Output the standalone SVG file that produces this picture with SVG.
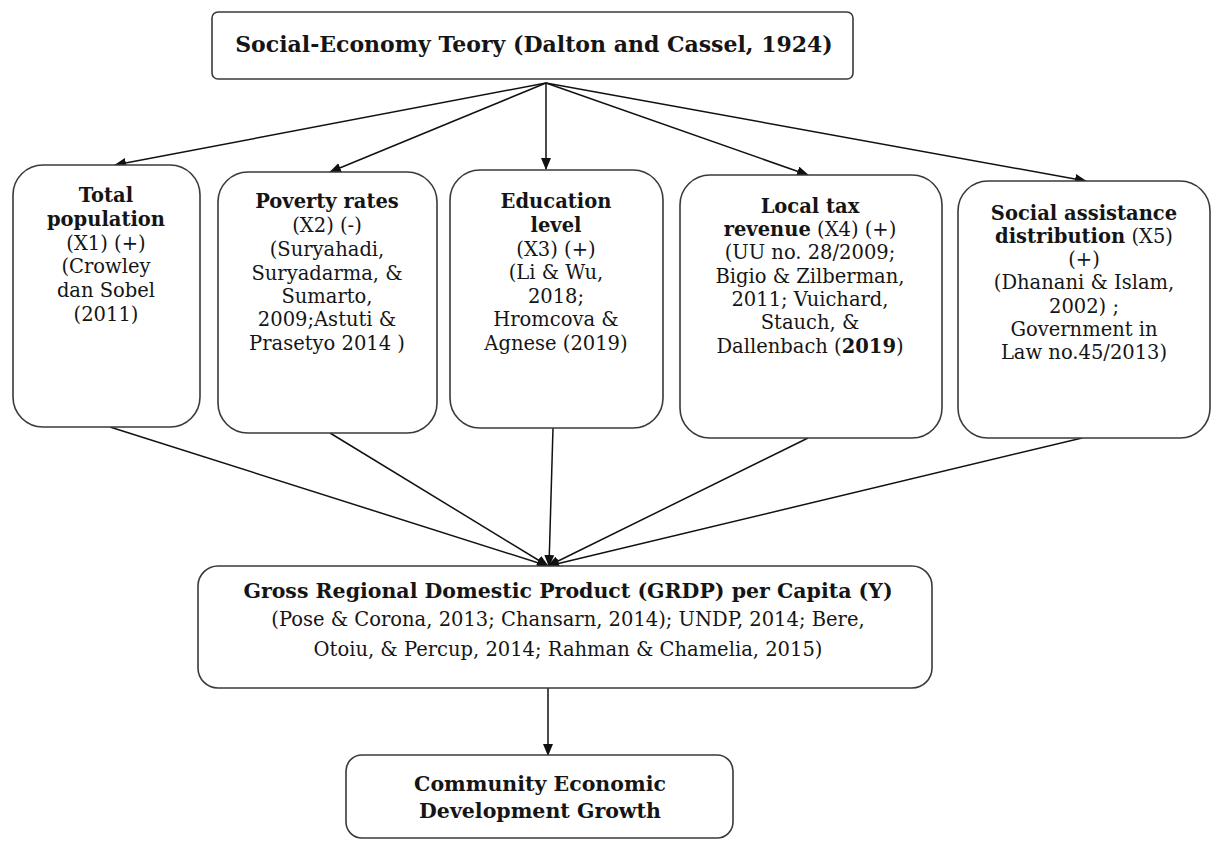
<svg xmlns="http://www.w3.org/2000/svg" width="1212" height="842" viewBox="0 0 1212 842">
<style>
.box{fill:#fff;stroke:#3a3a3a;stroke-width:1.6}
.t{font-family:"DejaVu Serif","Liberation Serif",serif;font-size:19.5px;fill:#151515;text-anchor:middle}
.b{font-weight:bold}
.conn{stroke:#111;stroke-width:1.5;fill:none}
</style>
<defs>
<marker id="ah" markerUnits="userSpaceOnUse" markerWidth="12" markerHeight="10" refX="11" refY="5" orient="auto">
<path d="M0,0 L12,5 L0,10 z" fill="#111"/>
</marker>
</defs>
<rect width="1212" height="842" fill="#fff"/>
<g id="connectors">
<line class="conn" x1="546" y1="83" x2="115" y2="165" marker-end="url(#ah)"/>
<line class="conn" x1="546" y1="83" x2="330" y2="172" marker-end="url(#ah)"/>
<line class="conn" x1="546" y1="83" x2="546" y2="169" marker-end="url(#ah)"/>
<line class="conn" x1="546" y1="83" x2="808" y2="175" marker-end="url(#ah)"/>
<line class="conn" x1="546" y1="83" x2="1086" y2="181" marker-end="url(#ah)"/>
<line class="conn" x1="110" y1="427" x2="548" y2="566" marker-end="url(#ah)"/>
<line class="conn" x1="330" y1="433" x2="548" y2="566" marker-end="url(#ah)"/>
<line class="conn" x1="553" y1="428" x2="549" y2="566" marker-end="url(#ah)"/>
<line class="conn" x1="808" y1="438" x2="548" y2="566" marker-end="url(#ah)"/>
<line class="conn" x1="1082" y1="438" x2="548" y2="566" marker-end="url(#ah)"/>
<line class="conn" x1="548" y1="688" x2="548" y2="755" marker-end="url(#ah)"/>
</g>
<g id="theory">
<rect class="box" x="212" y="12" width="641" height="67" rx="6"/>
<text class="t b" x="534" y="52" style="font-size:22px">Social-Economy Teory (Dalton and Cassel, 1924)</text>
</g>
<g id="x1">
<rect class="box" x="13" y="165" width="187" height="262" rx="30"/>
<text class="t" x="106"><tspan class="b" x="106" y="202">Total</tspan><tspan class="b" x="106" y="226">population</tspan><tspan x="106" y="250">(X1) (+)</tspan><tspan x="106" y="273">(Crowley</tspan><tspan x="106" y="297">dan Sobel</tspan><tspan x="106" y="321">(2011)</tspan></text>
</g>
<g id="x2">
<rect class="box" x="218" y="172" width="219" height="261" rx="30"/>
<text class="t" x="327"><tspan class="b" x="327" y="208">Poverty rates</tspan><tspan x="327" y="232">(X2) (-)</tspan><tspan x="327" y="256">(Suryahadi,</tspan><tspan x="327" y="280">Suryadarma, &amp;</tspan><tspan x="327" y="303">Sumarto,</tspan><tspan x="327" y="326">2009;Astuti &amp;</tspan><tspan x="327" y="350">Prasetyo 2014 )</tspan></text>
</g>
<g id="x3">
<rect class="box" x="450" y="170" width="213" height="258" rx="30"/>
<text class="t" x="556"><tspan class="b" x="556" y="208">Education</tspan><tspan class="b" x="556" y="232">level</tspan><tspan x="556" y="256">(X3) (+)</tspan><tspan x="556" y="279">(Li &amp; Wu,</tspan><tspan x="556" y="303">2018;</tspan><tspan x="556" y="326">Hromcova &amp;</tspan><tspan x="556" y="350">Agnese (2019)</tspan></text>
</g>
<g id="x4">
<rect class="box" x="680" y="175" width="262" height="263" rx="30"/>
<text class="t" x="810"><tspan class="b" x="810" y="213">Local tax</tspan><tspan x="810" y="236"><tspan class="b">revenue</tspan> (X4) (+)</tspan><tspan x="810" y="259">(UU no. 28/2009;</tspan><tspan x="810" y="283">Bigio &amp; Zilberman,</tspan><tspan x="810" y="306">2011; Vuichard,</tspan><tspan x="810" y="329">Stauch, &amp;</tspan><tspan x="810" y="353">Dallenbach (<tspan class="b">2019</tspan>)</tspan></text>
</g>
<g id="x5">
<rect class="box" x="958" y="181" width="252" height="257" rx="30"/>
<text class="t" x="1084"><tspan class="b" x="1084" y="220">Social assistance</tspan><tspan x="1084" y="243"><tspan class="b">distribution</tspan> (X5)</tspan><tspan x="1084" y="266">(+)</tspan><tspan x="1084" y="289">(Dhanani &amp; Islam,</tspan><tspan x="1084" y="313">2002) ;</tspan><tspan x="1084" y="336">Government in</tspan><tspan x="1084" y="359">Law no.45/2013)</tspan></text>
</g>
<g id="y">
<rect class="box" x="198" y="566" width="734" height="122" rx="20"/>
<text class="t" x="568"><tspan class="b" x="568" y="598" style="font-size:20.5px">Gross Regional Domestic Product (GRDP) per Capita (Y)</tspan><tspan x="568" y="626">(Pose &amp; Corona, 2013; Chansarn, 2014); UNDP, 2014; Bere,</tspan><tspan x="568" y="656">Otoiu, &amp; Percup, 2014; Rahman &amp; Chamelia, 2015)</tspan></text>
</g>
<g id="growth">
<rect class="box" x="346" y="755" width="387" height="83" rx="16"/>
<text class="t b" x="540" style="font-size:20.5px"><tspan x="540" y="791">Community Economic</tspan><tspan x="540" y="818">Development Growth</tspan></text>
</g>
</svg>
